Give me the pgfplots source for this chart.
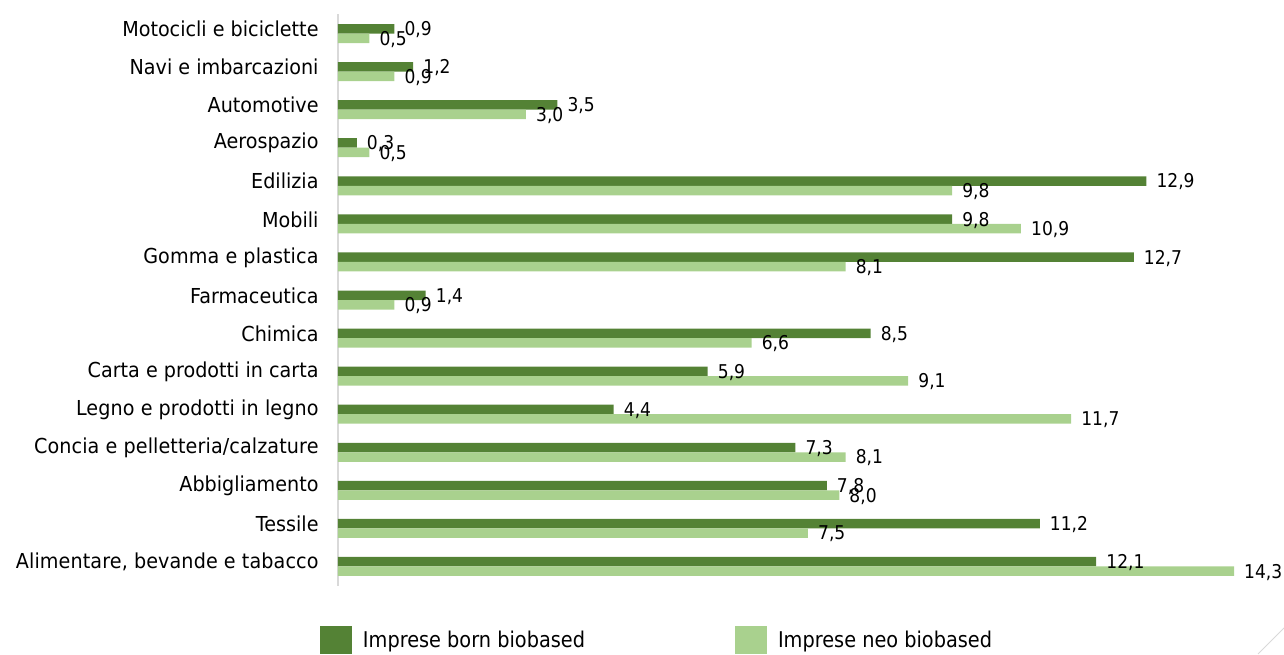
\documentclass[border=0pt]{standalone}
\usepackage{fontspec}
\setmainfont{DejaVu Sans}[FakeStretch=0.93]
\newfontfamily\spaced{DejaVu Sans}[FakeStretch=0.93, LetterSpace=0.5]
\newfontfamily\numfont{DejaVu Sans}[FakeStretch=0.9]
\newfontfamily\legfont{DejaVu Sans}[FakeStretch=0.89]
\usepackage{pgfplots}
\usepackage{pgfplotstable}
\pgfplotsset{compat=1.18}
\definecolor{born}{HTML}{548235}
\definecolor{neo}{HTML}{A9D18E}
\definecolor{axisgray}{HTML}{D9D9D9}
\newcommand{\lbl}{\fontsize{20.6}{24}\selectfont}
\newcommand{\numlbl}{\numfont\fontsize{19}{22}\selectfont}
\newcommand{\leglbl}{\legfont\fontsize{21.7}{25}\selectfont}
\pgfplotsset{sq legend/.style={legend image code/.code={\fill[##1] (0pt,-14pt) rectangle (32pt,14pt);}}}

% Imprese biobased per settore: born e neo
\pgfplotstableread{
idx born neo
0  12.1 14.3
1  11.2 7.5
2  7.8  8.0
3  7.3  8.1
4  4.4  11.7
5  5.9  9.1
6  8.5  6.6
7  1.4  0.9
8  12.7 8.1
9  9.8  10.9
10 12.9 9.8
11 0.3  0.5
12 3.5  3.0
13 1.2  0.9
14 0.9  0.5
}\settori

\begin{document}
\begin{tikzpicture}
\useasboundingbox (-338pt,-68.5pt) rectangle (946pt,585.5pt);
\begin{axis}[
  scale only axis,
  width=939.9pt, height=571pt,
  xmin=0, xmax=15, ymin=-0.5, ymax=14.5,
  clip=false,
  xbar, bar width=9.5pt,
  axis lines*=left,
  x axis line style={draw=none},
  y axis line style={draw=axisgray, line width=1.2pt},
  xtick=\empty,
  ytick={0,...,14},
  yticklabels={
    {\spaced Alimentare, bevande e tabacco},
    Tessile,
    Abbigliamento,
    {\spaced Concia e pelletteria/calzature},
    {\spaced Legno e prodotti in legno},
    Carta e prodotti in carta,
    Chimica,
    Farmaceutica,
    {\spaced Gomma e plastica},
    Mobili,
    Edilizia,
    Aerospazio,
    Automotive,
    Navi e imbarcazioni,
    Motocicli e biciclette},
  ytick style={draw=none},
  yticklabel style={font=\lbl, inner sep=0pt, xshift=-15pt, yshift=4.5pt},
  point meta=x,
  nodes near coords,
  nodes near coords style={font=\numlbl, anchor=west, inner sep=0pt, xshift=10pt, yshift=-1pt},
  /pgf/number format/use comma,
  /pgf/number format/fixed,
  /pgf/number format/fixed zerofill,
  /pgf/number format/precision=1,
  /pgf/number format/assume math mode=true,
  legend style={draw=none, fill=none, at={(axis description cs:0,0)},
    anchor=west, xshift=-18pt, yshift=-54.5pt, inner sep=0pt, outer sep=0pt,
    legend columns=2, font=\leglbl,
    /tikz/every odd column/.append style={column sep=11pt},
    /tikz/every even column/.append style={column sep=150pt},
    nodes={inner sep=0pt}},
]
\addplot[fill=born, draw=none, bar shift=4.75pt, sq legend]
  table[x=born, y=idx] {\settori};
\addlegendentry{Imprese born biobased}
\addplot[fill=neo, draw=none, bar shift=-4.75pt, sq legend]
  table[x=neo, y=idx] {\settori};
\addlegendentry{Imprese neo biobased}
\end{axis}
% corner rule
\draw[axisgray, line width=1pt] (920pt,-68.5pt) -- (946pt,-42.5pt);
\end{tikzpicture}
\end{document}
